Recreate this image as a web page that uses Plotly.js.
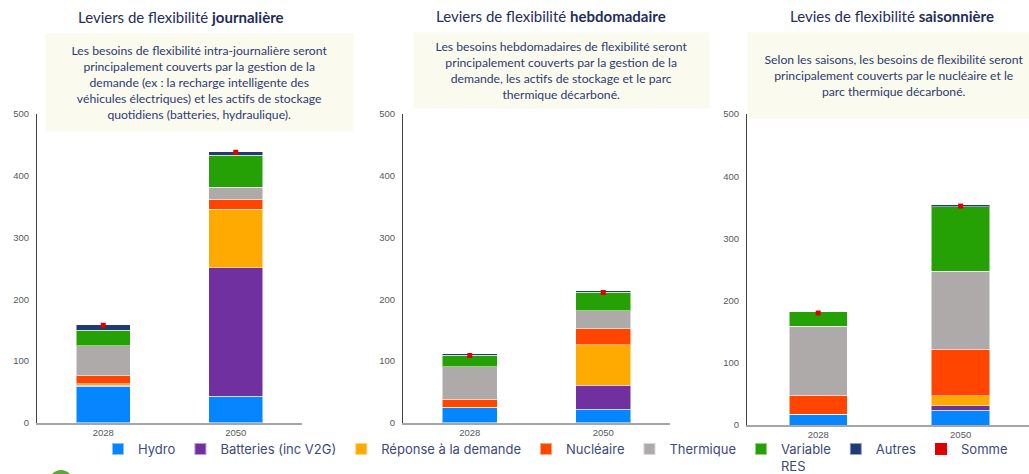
<!DOCTYPE html>
<html>
<head>
<meta charset="utf-8">
<script src="https://cdn.plot.ly/plotly-3.0.1.min.js"></script>
<style>
  html, body { margin: 0; padding: 0; background: #fff; }
  #chart { width: 1029px; height: 474px; }
</style>
</head>
<body>
<div id="chart"></div>
<script>
// années
const years = ["2028", "2050"];

// journalier
const hydroJ = [59, 43];
const battJ = [2, 208];
const repJ = [2, 95];
const nucJ = [13, 16];
const thermJ = [49, 19];
const varJ = [25, 52];
const autresJ = [9, 6];
const sommeJ = [158, 438];

// hebdomadaire
const hydroH = [24, 22];
const battH = [0, 39];
const repH = [1, 65];
const nucH = [13, 27];
const thermH = [53, 28];
const varH = [18, 30];
const autresH = [3, 3];
const sommeH = [109, 211];

// saisonnier
const hydroS = [17, 24];
const battS = [0, 7];
const repS = [0, 16];
const nucS = [31, 75];
const thermS = [111, 125];
const varS = [23, 104];
const autresS = [0, 3];
const sommeS = [180, 352];

const series = [
  { name: "Hydro", color: "#0585FF" },
  { name: "Batteries (inc V2G)", color: "#7030A0" },
  { name: "Réponse à la demande", color: "#FFAA00" },
  { name: "Nucléaire", color: "#FF4500" },
  { name: "Thermique", color: "#AEAAAA" },
  { name: "Variable<br>RES", color: "#25A005" },
  { name: "Autres", color: "#203A78" },
];

const panels = [
  { xa: "x", ya: "y", vals: [hydroJ, battJ, repJ, nucJ, thermJ, varJ, autresJ], somme: sommeJ },
  { xa: "x2", ya: "y2", vals: [hydroH, battH, repH, nucH, thermH, varH, autresH], somme: sommeH },
  { xa: "x3", ya: "y3", vals: [hydroS, battS, repS, nucS, thermS, varS, autresS], somme: sommeS },
];

const data = [];
panels.forEach((p, i) => {
  series.forEach((s, k) => {
    data.push({
      type: "bar",
      x: years,
      y: p.vals[k],
      name: s.name,
      xaxis: p.xa,
      yaxis: p.ya,
      legendgroup: s.name,
      showlegend: i === 0,
      marker: { color: s.color, line: { color: "rgba(255,255,255,0.5)", width: 1 } },
      hoverinfo: "name+y",
    });
  });
  data.push({
    type: "scatter",
    mode: "markers",
    x: years,
    y: p.somme,
    name: "Somme",
    xaxis: p.xa,
    yaxis: p.ya,
    legendgroup: "Somme",
    showlegend: i === 0,
    marker: { color: "#E00000", size: 5, symbol: "square" },
  });
});

const tickFont = { family: "Liberation Sans, Arial, sans-serif", size: 9.5, color: "#595959" };
const xAxisBase = {
  type: "category",
  showline: true,
  linecolor: "#A6A6A6",
  linewidth: 2,
  ticks: "",
  showgrid: false,
  tickfont: tickFont,
  automargin: false,
  fixedrange: true,
};
const yAxisBase = {
  range: [0, 500],
  dtick: 100,
  showline: true,
  linecolor: "#404040",
  linewidth: 1,
  showgrid: false,
  zeroline: false,
  ticks: "",
  ticklabelstandoff: 5,
  tickfont: tickFont,
  automargin: false,
  fixedrange: true,
};

const W = 1029, H = 474;
const px = (v) => v / W;
const py = (v) => 1 - v / H;

const titleFont = { family: "Lato, sans-serif", size: 15, color: "#1F2D5A" };
const boxFont = { family: "Lato, sans-serif", size: 12.2, color: "#2E3B6E" };

const layout = {
  width: W,
  height: H,
  margin: { l: 0, r: 0, t: 0, b: 0, autoexpand: false },
  paper_bgcolor: "#fff",
  plot_bgcolor: "#fff",
  barmode: "stack",
  bargap: 0.59,
  showlegend: true,
  legend: {
    orientation: "h",
    x: px(98),
    xanchor: "left",
    y: py(434),
    yanchor: "top",
    traceorder: "normal",
    itemsizing: "constant",
    bgcolor: "rgba(0,0,0,0)",
    font: { family: "Inter, sans-serif", size: 13, color: "#3B4A7A" },
    valign: "top",
  },
  xaxis: { ...xAxisBase, domain: [px(37), px(302)], anchor: "y" },
  yaxis: { ...yAxisBase, domain: [py(422.7), py(114)], anchor: "x" },
  xaxis2: { ...xAxisBase, domain: [px(403), px(670)], anchor: "y2" },
  yaxis2: { ...yAxisBase, domain: [py(422.7), py(114)], anchor: "x2" },
  xaxis3: { ...xAxisBase, domain: [px(747), 1], range: [-0.5, 1.48], anchor: "y3" },
  yaxis3: { ...yAxisBase, domain: [py(425), py(114)], anchor: "x3" },
  annotations: [
    {
      text: "Leviers de flexibilité <b>journalière</b>",
      xref: "paper", yref: "paper", x: px(181), y: py(17),
      xanchor: "center", yanchor: "middle",
      showarrow: false, font: titleFont,
    },
    {
      text: "Leviers de flexibilité <b>hebdomadaire</b>",
      xref: "paper", yref: "paper", x: px(551), y: py(16),
      xanchor: "center", yanchor: "middle",
      showarrow: false, font: titleFont,
    },
    {
      text: "Levies de flexibilité <b>saisonnière</b>",
      xref: "paper", yref: "paper", x: px(892), y: py(16),
      xanchor: "center", yanchor: "middle",
      showarrow: false, font: titleFont,
    },
    {
      text: "Les besoins de flexibilité intra-journalière seront<br>principalement couverts par la gestion de la<br>demande (ex : la recharge intelligente des<br>véhicules électriques) et les actifs de stockage<br>quotidiens (batteries, hydraulique).",
      xref: "paper", yref: "paper", x: px(45), y: py(33),
      xanchor: "left", yanchor: "top", width: 307, height: 97,
      bgcolor: "#FAFAEF", borderpad: 0, showarrow: false, font: boxFont,
    },
    {
      text: "Les besoins hebdomadaires de flexibilité seront<br>principalement couverts par la gestion de la<br>demande, les actifs de stockage et le parc<br>thermique décarboné.",
      xref: "paper", yref: "paper", x: px(413), y: py(32),
      xanchor: "left", yanchor: "top", width: 295, height: 75,
      bgcolor: "#FAFAEF", borderpad: 0, showarrow: false, font: boxFont,
    },
    {
      text: "Selon les saisons, les besoins de flexibilité seront<br>principalement couverts par le nucléaire et le<br>parc thermique décarboné.",
      xref: "paper", yref: "paper", x: px(747), y: py(32),
      xanchor: "left", yanchor: "top", width: 292, height: 85,
      bgcolor: "#FAFAEF", borderpad: 0, showarrow: false, font: boxFont,
    },
  ],
  shapes: [
    {
      type: "circle", xref: "paper", yref: "paper",
      x0: px(49), x1: px(73), y0: py(494), y1: py(470),
      fillcolor: "#5AAA32", line: { width: 0 },
    },
  ],
};

Plotly.newPlot("chart", data, layout, { displayModeBar: false, staticPlot: true });
</script>
</body>
</html>
